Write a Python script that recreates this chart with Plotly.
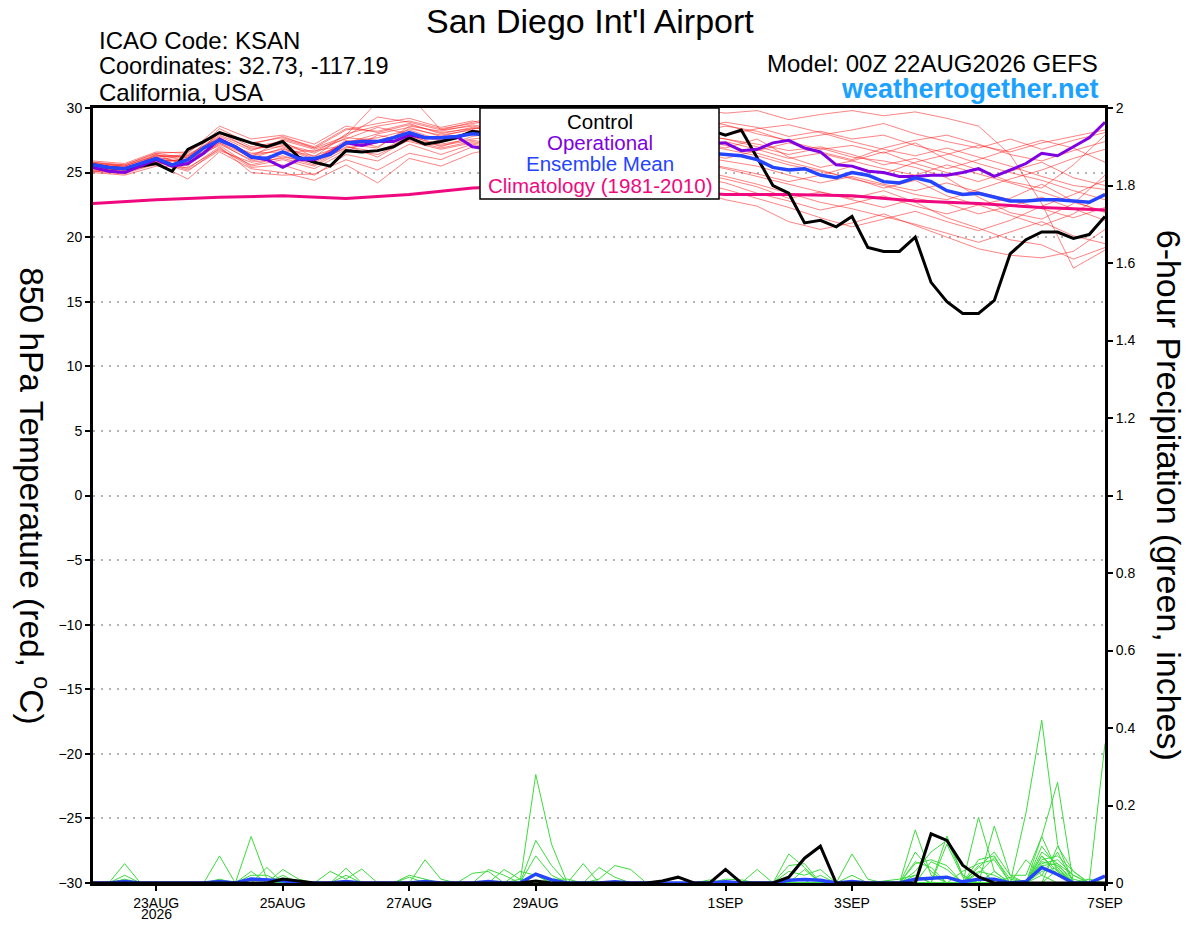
import pandas as pd
import plotly.graph_objs as go

# --- time axes (GEFS run 00Z 22AUG2026) ---
t6 = pd.date_range("2026-08-22 00:00", periods=65, freq="6h")
t12 = pd.date_range("2026-08-22 00:00", periods=33, freq="12h")
t24 = pd.date_range("2026-08-22 00:00", periods=17, freq="24h")

# 850 hPa temperature (C), 6-hourly
control_t = [25.6, 25.4, 25.3, 25.5, 25.7, 25.1, 26.8, 27.4, 28.1, 27.7, 27.3, 27.0, 27.4,
             26.2, 25.8, 25.5, 26.7, 26.6, 26.7, 27.0, 27.7, 27.2, 27.4, 27.7, 28.2, 28.0,
             28.3, 27.9, 28.4, 28.7, 28.2, 28.6, 28.9, 28.4, 28.1, 28.5, 28.8, 28.3, 28.6,
             28.3, 27.9, 28.3, 26.1, 24.0, 23.4, 21.1, 21.3, 20.8, 21.6, 19.2, 18.9, 18.9,
             20.0, 16.5, 15.0, 14.1, 14.1, 15.1, 18.7, 19.8, 20.4, 20.4, 19.9, 20.2, 21.6]
oper_t = [25.4, 25.1, 25.0, 25.5, 26.0, 25.5, 25.7, 26.5, 27.6, 27.0, 26.2, 26.0, 25.4,
          26.0, 26.0, 26.5, 27.3, 27.1, 27.4, 27.4, 27.9, 27.7, 27.7, 27.8, 27.0, 26.8,
          26.5, 27.0, 27.3, 27.0, 26.7, 27.2, 27.5, 27.1, 26.9, 27.3, 27.6, 27.2, 27.4,
          27.3, 27.3, 26.7, 26.8, 27.3, 27.5, 26.9, 26.6, 25.6, 25.5, 25.1, 25.0, 24.7,
          24.7, 24.8, 24.8, 25.0, 25.3, 24.7, 25.2, 25.7, 26.5, 26.3, 27.0, 27.7, 28.9]
mean_t = [25.6, 25.4, 25.3, 25.7, 26.1, 25.6, 26.0, 26.9, 27.5, 27.0, 26.2, 26.1, 26.6,
          26.1, 26.1, 26.4, 27.3, 27.4, 27.4, 27.7, 28.1, 27.7, 27.7, 27.8, 28.0, 27.9,
          27.8, 27.6, 27.7, 27.4, 27.5, 27.2, 27.3, 27.0, 27.1, 26.8, 26.9, 26.7, 26.6,
          26.5, 26.4, 26.3, 26.0, 25.4, 25.2, 25.3, 24.8, 24.6, 25.0, 24.8, 24.3, 24.2,
          24.6, 24.3, 23.6, 23.3, 23.4, 23.1, 22.8, 22.8, 22.9, 22.9, 22.8, 22.7, 23.3]
# climatology (1981-2010), daily
clim_t = [22.6, 22.9, 23.1, 23.2, 23.0, 23.3, 23.8, 24.0, 24.0, 23.6, 23.3, 23.3, 23.2,
          22.8, 22.6, 22.3, 22.1]

# ensemble perturbation members, 12-hourly
members_t = [
    [25.3, 25.1, 26.4, 25.9, 28.1, 26.8, 27.2, 26.6, 27.9, 30.5, 31.0, 28.3, 28.9, 29.4, 29.8, 29.2, 28.7,
     29.1, 29.6, 29.9, 29.6, 29.8, 29.1, 29.5, 29.8, 29.4, 29.7, 29.2, 28.6, 26.4, 22.6, 17.6, 19.0],
    [25.6, 25.4, 26.0, 26.3, 27.6, 26.1, 26.9, 26.0, 27.5, 27.0, 28.4, 27.9, 28.3, 28.0, 27.6, 27.9, 27.5,
     27.2, 27.8, 28.1, 28.6, 28.2, 27.4, 26.8, 27.1, 26.5, 27.3, 26.0, 25.2, 24.3, 23.8, 25.6, 27.9],
    [25.8, 25.6, 26.5, 26.1, 28.4, 27.2, 27.8, 26.9, 28.3, 28.8, 29.2, 28.5, 29.0, 28.4, 28.9, 28.1, 27.8,
     28.3, 28.5, 27.9, 27.6, 27.0, 26.4, 26.9, 26.2, 25.9, 25.4, 24.6, 23.1, 21.9, 21.4, 22.6, 24.8],
    [25.1, 24.9, 25.7, 24.5, 26.6, 25.3, 25.0, 24.4, 25.6, 24.2, 26.1, 25.5, 26.5, 27.0, 26.4, 25.8, 25.3,
     24.9, 24.1, 23.6, 22.9, 22.4, 21.2, 20.6, 21.1, 21.8, 20.9, 20.0, 19.1, 18.6, 18.4, 18.9, 20.6],
    [25.5, 25.3, 26.2, 25.7, 27.3, 25.9, 26.3, 25.6, 27.0, 26.6, 27.8, 27.2, 27.6, 27.9, 27.2, 26.8, 26.4,
     26.9, 26.5, 25.9, 25.4, 24.9, 24.3, 24.8, 25.5, 24.9, 25.8, 26.4, 27.1, 26.6, 27.3, 27.8, 28.3],
    [25.2, 25.0, 25.9, 26.0, 27.1, 25.5, 26.0, 25.3, 26.6, 27.9, 27.4, 26.8, 27.3, 26.9, 27.4, 26.3, 26.9,
     26.1, 26.6, 27.2, 26.8, 26.3, 25.6, 25.1, 24.6, 23.8, 24.4, 23.2, 22.5, 23.0, 24.1, 22.8, 21.9],
    [25.9, 25.7, 26.6, 26.5, 28.6, 27.6, 27.9, 27.2, 28.6, 28.1, 28.7, 28.1, 28.4, 28.7, 28.2, 28.5, 29.0,
     28.6, 28.0, 28.4, 28.9, 28.5, 27.8, 28.2, 27.6, 27.9, 27.1, 26.5, 25.7, 25.0, 24.4, 23.6, 22.9],
    [25.4, 25.2, 26.1, 25.3, 27.0, 25.0, 24.8, 24.9, 26.0, 25.2, 26.5, 26.0, 27.0, 26.5, 27.1, 26.7, 26.0,
     25.6, 25.1, 24.7, 24.2, 23.4, 22.8, 22.1, 22.6, 23.2, 22.4, 21.8, 22.5, 21.7, 20.9, 21.8, 23.4],
    [25.7, 25.5, 26.3, 26.2, 27.8, 26.7, 27.5, 26.8, 27.6, 28.5, 28.0, 27.6, 28.1, 27.3, 26.9, 27.4, 27.9,
     27.5, 27.1, 26.6, 26.1, 26.7, 27.3, 26.6, 26.0, 26.9, 27.5, 27.9, 27.2, 26.4, 25.9, 26.7, 27.4],
    [25.0, 24.8, 25.5, 25.4, 26.8, 25.6, 26.2, 25.8, 26.9, 27.3, 27.9, 27.0, 27.8, 28.2, 27.7, 27.3, 27.6,
     27.0, 26.4, 25.8, 25.3, 24.7, 24.1, 23.5, 23.0, 23.6, 22.7, 21.5, 20.7, 19.8, 19.4, 18.3, 19.2],
    [25.6, 25.3, 26.0, 25.9, 27.4, 26.3, 26.8, 26.3, 27.2, 26.9, 28.6, 28.2, 28.7, 28.3, 28.7, 28.0, 28.3,
     27.7, 27.9, 27.4, 26.9, 27.6, 26.2, 25.4, 25.9, 26.6, 25.7, 25.0, 24.3, 25.1, 25.8, 24.6, 24.0],
    [25.3, 25.2, 25.8, 25.6, 27.2, 26.0, 26.5, 25.9, 27.4, 27.7, 28.3, 27.5, 28.2, 27.6, 28.1, 27.9, 27.3,
     27.8, 28.2, 27.6, 27.1, 26.5, 25.8, 25.2, 24.5, 24.0, 23.3, 22.9, 23.7, 24.5, 25.2, 26.1, 26.8],
    [25.5, 25.4, 26.2, 26.4, 27.7, 26.4, 27.1, 26.5, 27.7, 27.5, 28.1, 27.4, 28.0, 27.8, 27.4, 27.0, 26.6,
     26.2, 26.7, 26.3, 25.9, 25.5, 24.8, 24.2, 24.7, 24.1, 23.6, 24.2, 23.5, 22.9, 22.2, 21.5, 22.3],
    [25.8, 25.5, 26.4, 25.5, 28.2, 27.0, 27.4, 26.2, 28.0, 28.6, 29.0, 28.4, 28.8, 29.1, 28.5, 28.8, 28.2,
     27.9, 27.5, 28.0, 27.6, 27.2, 26.7, 27.0, 26.4, 25.6, 26.1, 25.3, 26.0, 26.8, 27.5, 26.9, 25.8],
    [25.2, 25.1, 25.6, 26.2, 27.5, 26.5, 26.6, 26.7, 27.1, 26.2, 27.6, 27.1, 27.5, 27.1, 26.6, 26.1, 25.7,
     26.3, 25.8, 25.2, 24.7, 24.1, 23.4, 22.7, 22.2, 21.6, 21.0, 20.3, 19.6, 20.4, 21.2, 20.1, 19.5],
    [25.7, 25.6, 26.5, 26.6, 28.0, 27.3, 27.7, 27.0, 28.4, 28.2, 28.8, 28.0, 28.5, 28.1, 28.4, 28.7, 28.4,
     28.8, 28.6, 29.1, 28.7, 28.0, 27.5, 27.9, 28.3, 28.8, 28.0, 27.4, 26.9, 27.6, 26.8, 27.5, 28.1],
    [25.4, 25.0, 25.8, 25.1, 26.9, 25.4, 25.6, 24.8, 26.4, 25.9, 27.2, 26.4, 27.2, 26.7, 26.2, 25.6, 25.9,
     25.4, 24.8, 24.3, 23.7, 23.0, 22.3, 21.5, 20.8, 21.4, 22.0, 21.2, 20.5, 21.3, 22.4, 23.3, 24.4],
    [25.6, 25.5, 26.3, 26.3, 27.9, 26.9, 27.0, 26.1, 27.3, 28.0, 28.5, 27.8, 28.4, 28.6, 28.0, 27.5, 27.1,
     26.8, 27.3, 26.9, 27.4, 26.8, 26.1, 26.5, 25.9, 25.3, 24.8, 25.6, 24.9, 24.2, 23.5, 22.7, 22.0],
    [25.3, 25.3, 26.0, 25.8, 27.3, 26.2, 27.6, 26.9, 27.8, 29.3, 28.9, 28.3, 28.6, 28.2, 27.8, 28.3, 28.9,
     29.2, 28.8, 28.3, 27.9, 28.4, 28.7, 28.1, 27.4, 26.8, 26.3, 26.9, 26.2, 25.5, 24.7, 24.0, 23.7],
    [25.1, 25.0, 25.9, 25.2, 26.7, 25.8, 26.1, 25.5, 26.8, 26.4, 27.5, 26.9, 27.4, 27.0, 27.5, 26.8, 26.4,
     26.0, 25.5, 25.0, 24.5, 23.9, 23.0, 23.5, 22.9, 22.3, 23.0, 22.6, 21.8, 22.4, 23.1, 22.2, 21.3],
]

# 6-hour precipitation (inches), 6-hourly
control_p = [0, 0, 0, 0, 0, 0, 0, 0, 0, 0, 0, 0, 0.01, 0.005, 0, 0, 0, 0, 0, 0, 0, 0, 0, 0, 0, 0,
             0, 0, 0.005, 0, 0, 0, 0, 0, 0, 0, 0.005, 0.015, 0, 0, 0.035, 0, 0, 0, 0.015, 0.064, 0.095,
             0, 0, 0, 0, 0, 0, 0.127, 0.11, 0.046, 0.016, 0, 0, 0, 0, 0, 0, 0, 0]
mean_p = [0, 0, 0.004, 0, 0, 0, 0, 0, 0.004, 0, 0.01, 0.008, 0.006, 0, 0, 0, 0.004, 0, 0, 0, 0,
          0.004, 0, 0, 0, 0.004, 0, 0, 0.023, 0.008, 0, 0, 0, 0.003, 0, 0, 0, 0, 0, 0, 0.003, 0, 0,
          0, 0.007, 0.009, 0.007, 0, 0.004, 0, 0, 0, 0.01, 0.013, 0.015, 0.003, 0.01, 0.01, 0, 0.004,
          0.04, 0.022, 0, 0, 0.018]
members_p = [
    [0, 0, 0.05, 0, 0, 0, 0, 0, 0, 0, 0, 0, 0, 0, 0, 0, 0, 0, 0, 0, 0, 0, 0, 0, 0, 0, 0, 0.01, 0, 0, 0, 0, 0,
     0, 0, 0, 0, 0, 0, 0, 0, 0, 0, 0, 0, 0, 0, 0, 0, 0, 0, 0, 0.055, 0.04, 0, 0, 0, 0, 0, 0, 0.07, 0.03, 0, 0, 0],
    [0, 0, 0.02, 0, 0, 0, 0, 0, 0, 0, 0, 0, 0, 0, 0, 0, 0, 0, 0, 0, 0, 0, 0, 0, 0, 0, 0, 0.03, 0.02, 0, 0, 0, 0,
     0, 0, 0, 0, 0, 0, 0, 0, 0, 0, 0, 0, 0, 0, 0, 0, 0, 0, 0, 0.03, 0.08, 0.11, 0.02, 0, 0, 0, 0, 0.095, 0.04, 0, 0, 0],
    [0, 0, 0.01, 0, 0, 0, 0, 0, 0, 0, 0, 0, 0, 0, 0, 0, 0, 0, 0, 0, 0, 0, 0, 0, 0, 0, 0, 0, 0.28, 0.10, 0, 0, 0,
     0, 0, 0, 0, 0, 0, 0, 0, 0, 0, 0, 0, 0, 0, 0, 0, 0, 0, 0, 0, 0, 0.121, 0.02, 0, 0, 0, 0, 0, 0.095, 0.03, 0, 0],
    [0, 0, 0, 0, 0, 0, 0, 0, 0.07, 0, 0, 0, 0, 0, 0, 0, 0, 0, 0, 0, 0, 0, 0, 0, 0, 0, 0, 0, 0.11, 0.045, 0, 0, 0,
     0, 0, 0, 0, 0, 0, 0, 0, 0, 0, 0, 0, 0, 0, 0, 0, 0, 0, 0, 0, 0, 0, 0, 0.17, 0.03, 0, 0, 0.08, 0.05, 0, 0, 0],
    [0, 0, 0, 0, 0, 0, 0, 0, 0.01, 0, 0, 0, 0, 0, 0, 0, 0, 0, 0, 0, 0, 0, 0, 0, 0, 0, 0, 0, 0.07, 0.02, 0, 0, 0,
     0, 0, 0, 0, 0, 0, 0, 0, 0, 0, 0, 0, 0, 0, 0, 0, 0, 0, 0, 0, 0, 0, 0, 0.06, 0.07, 0, 0, 0.07, 0.02, 0, 0, 0.36],
    [0, 0, 0, 0, 0, 0, 0, 0, 0, 0, 0.12, 0.01, 0, 0, 0, 0, 0, 0, 0, 0, 0, 0, 0, 0, 0, 0, 0, 0, 0.02, 0, 0, 0, 0,
     0, 0, 0, 0, 0, 0, 0, 0, 0, 0, 0, 0, 0, 0, 0, 0, 0, 0, 0, 0, 0, 0, 0, 0.04, 0.08, 0.02, 0, 0.05, 0.06, 0.02, 0, 0],
    [0, 0, 0, 0, 0, 0, 0, 0, 0, 0, 0.02, 0.02, 0, 0, 0, 0, 0, 0, 0, 0, 0, 0, 0, 0, 0, 0, 0, 0, 0, 0, 0, 0.05, 0,
     0, 0, 0, 0, 0, 0, 0, 0, 0, 0, 0, 0, 0, 0, 0, 0, 0, 0, 0, 0, 0, 0, 0, 0, 0.147, 0.02, 0.02, 0.12, 0.03, 0, 0, 0],
    [0, 0, 0, 0, 0, 0, 0, 0, 0, 0, 0.03, 0, 0.02, 0, 0, 0, 0, 0, 0, 0, 0, 0, 0, 0, 0, 0, 0, 0, 0, 0, 0, 0, 0.04,
     0.015, 0, 0, 0, 0, 0, 0, 0, 0, 0, 0, 0, 0, 0, 0, 0, 0, 0, 0, 0, 0, 0, 0, 0, 0, 0, 0.18, 0.42, 0.10, 0, 0, 0],
    [0, 0, 0, 0, 0, 0, 0, 0, 0, 0, 0, 0.04, 0, 0, 0, 0, 0, 0, 0, 0, 0, 0, 0, 0, 0, 0, 0, 0, 0, 0, 0, 0, 0.01,
     0.045, 0.035, 0, 0, 0, 0, 0, 0, 0, 0, 0, 0, 0, 0, 0, 0, 0, 0, 0, 0, 0, 0, 0, 0, 0, 0, 0, 0.12, 0.26, 0, 0, 0],
    [0, 0, 0, 0, 0, 0, 0, 0, 0, 0, 0, 0, 0.035, 0.01, 0, 0, 0, 0, 0, 0, 0, 0, 0, 0, 0, 0, 0, 0, 0, 0, 0, 0, 0,
     0, 0, 0, 0, 0, 0, 0, 0.01, 0.008, 0, 0, 0, 0, 0, 0, 0, 0, 0, 0, 0, 0, 0, 0, 0, 0, 0, 0, 0.06, 0.07, 0.03, 0, 0],
    [0, 0, 0, 0, 0, 0, 0, 0, 0, 0, 0, 0, 0, 0, 0, 0.03, 0.01, 0.036, 0, 0, 0, 0, 0, 0, 0, 0, 0, 0, 0, 0, 0, 0, 0,
     0, 0, 0, 0, 0, 0, 0, 0, 0, 0.035, 0, 0, 0, 0, 0, 0, 0, 0, 0, 0, 0, 0, 0, 0, 0, 0, 0, 0.045, 0.05, 0.02, 0, 0],
    [0, 0, 0, 0, 0, 0, 0, 0, 0, 0, 0, 0, 0, 0, 0, 0, 0.038, 0, 0, 0, 0, 0, 0, 0, 0, 0, 0, 0, 0, 0, 0, 0, 0,
     0, 0, 0, 0, 0, 0, 0, 0, 0, 0, 0, 0.075, 0.04, 0, 0, 0, 0, 0, 0, 0, 0, 0, 0, 0, 0, 0, 0, 0.03, 0.04, 0, 0.01, 0],
    [0, 0, 0, 0, 0, 0, 0, 0, 0, 0, 0, 0, 0, 0, 0, 0, 0.02, 0, 0, 0, 0, 0, 0, 0, 0, 0, 0, 0, 0, 0, 0, 0, 0,
     0, 0, 0, 0, 0, 0, 0, 0, 0, 0, 0, 0.045, 0.05, 0, 0, 0, 0, 0, 0, 0.02, 0, 0, 0, 0, 0.03, 0, 0, 0.02, 0.08, 0, 0, 0],
    [0, 0, 0, 0, 0, 0, 0, 0, 0, 0, 0, 0, 0, 0, 0, 0, 0, 0, 0, 0, 0.02, 0.01, 0, 0, 0, 0, 0, 0, 0, 0, 0, 0, 0,
     0, 0, 0, 0, 0, 0, 0, 0, 0, 0, 0, 0.03, 0.02, 0.035, 0, 0, 0, 0, 0, 0, 0, 0, 0.03, 0.05, 0.06, 0, 0, 0, 0, 0, 0, 0],
    [0, 0, 0, 0, 0, 0, 0, 0, 0, 0, 0, 0, 0, 0, 0, 0, 0, 0, 0, 0, 0.015, 0, 0, 0, 0, 0, 0, 0, 0, 0, 0, 0, 0,
     0, 0, 0, 0, 0, 0, 0, 0, 0, 0, 0, 0, 0.035, 0, 0, 0, 0, 0, 0, 0.137, 0.02, 0, 0, 0.025, 0.066, 0.01, 0, 0, 0, 0, 0, 0],
    [0, 0, 0, 0, 0, 0, 0, 0, 0, 0, 0, 0, 0, 0, 0, 0, 0, 0, 0, 0, 0, 0.06, 0.01, 0, 0, 0, 0, 0, 0, 0, 0, 0, 0,
     0, 0, 0, 0, 0, 0, 0, 0, 0, 0, 0, 0, 0, 0.02, 0, 0, 0, 0, 0, 0, 0, 0.10, 0.015, 0, 0, 0, 0.06, 0.02, 0, 0, 0, 0],
    [0, 0, 0, 0, 0, 0, 0, 0, 0, 0, 0, 0, 0, 0, 0, 0, 0, 0, 0, 0, 0, 0, 0, 0, 0.025, 0.03, 0, 0, 0, 0, 0, 0, 0,
     0, 0, 0, 0, 0, 0, 0, 0, 0, 0, 0, 0, 0, 0, 0, 0.075, 0.01, 0, 0, 0.08, 0.03, 0, 0, 0.045, 0, 0, 0, 0, 0, 0, 0, 0],
    [0, 0, 0, 0, 0, 0, 0, 0, 0, 0, 0, 0, 0, 0, 0, 0, 0, 0, 0, 0, 0, 0, 0, 0, 0, 0.035, 0.02, 0, 0, 0, 0, 0, 0,
     0, 0, 0, 0, 0, 0, 0, 0, 0, 0, 0, 0, 0, 0, 0, 0.02, 0, 0, 0, 0, 0.055, 0.035, 0, 0, 0, 0.015, 0, 0, 0.035, 0, 0, 0],
    [0, 0, 0, 0, 0, 0, 0, 0, 0, 0, 0, 0, 0, 0, 0, 0, 0, 0, 0, 0, 0, 0, 0, 0, 0, 0, 0.035, 0.01, 0, 0, 0, 0, 0,
     0, 0, 0, 0, 0, 0, 0, 0, 0, 0, 0, 0, 0, 0, 0, 0, 0, 0.005, 0.01, 0.02, 0, 0, 0, 0, 0, 0, 0, 0.055, 0.045, 0.01, 0, 0],
    [0, 0, 0, 0, 0, 0, 0, 0, 0, 0, 0, 0, 0, 0, 0, 0, 0, 0, 0, 0, 0, 0, 0, 0, 0, 0, 0, 0, 0, 0.01, 0.01, 0, 0,
     0, 0, 0, 0, 0, 0, 0.008, 0, 0, 0, 0, 0, 0, 0, 0, 0, 0, 0, 0, 0.05, 0.06, 0.045, 0, 0.03, 0.02, 0, 0, 0, 0, 0, 0, 0],
]

tick_dates = ["2026-08-23", "2026-08-25", "2026-08-27", "2026-08-29",
              "2026-09-01", "2026-09-03", "2026-09-05", "2026-09-07"]
tick_labels = ["23AUG", "25AUG", "27AUG", "29AUG", "1SEP", "3SEP", "5SEP", "7SEP"]
year_label = "2026"

legend_names = ["Control", "Operational", "Ensemble Mean", "Climatology (1981-2010)"]

RED = "rgba(255,30,30,0.55)"
GREEN = "#3cdc3c"
PURPLE = "#7f00e0"
BLUE = "#2444ff"
PINK = "#f0087f"
FONT = "Liberation Sans, Arial, sans-serif"

fig = go.Figure()

for m in members_t:
    fig.add_trace(go.Scatter(x=t12, y=m, mode="lines", line=dict(color=RED, width=1), yaxis="y"))
for m in members_p:
    fig.add_trace(go.Scatter(x=t6, y=m, mode="lines", line=dict(color=GREEN, width=1), yaxis="y2"))

fig.add_trace(go.Scatter(x=t6, y=mean_p, mode="lines", line=dict(color=BLUE, width=3.5), yaxis="y2"))
fig.add_trace(go.Scatter(x=t6, y=control_p, mode="lines", line=dict(color="black", width=3), yaxis="y2"))

fig.add_trace(go.Scatter(x=t24, y=clim_t, mode="lines", line=dict(color=PINK, width=3), yaxis="y"))
fig.add_trace(go.Scatter(x=t6, y=control_t, mode="lines", line=dict(color="black", width=3), yaxis="y"))
fig.add_trace(go.Scatter(x=t6, y=oper_t, mode="lines", line=dict(color=PURPLE, width=3), yaxis="y"))
fig.add_trace(go.Scatter(x=t6, y=mean_t, mode="lines", line=dict(color=BLUE, width=3.5), yaxis="y"))

notes = [
    dict(text="San Diego Int'l Airport", x=0.491, y=1.112, xanchor="center", size=34),
    dict(text="ICAO Code: KSAN", x=0.004, y=1.0877, xanchor="left", size=24),
    dict(text="Coordinates: 32.73, -117.19", x=0.004, y=1.0542, xanchor="left", size=23.5),
    dict(text="California, USA", x=0.004, y=1.0206, xanchor="left", size=24),
    dict(text="Model: 00Z 22AUG2026 GEFS", x=0.995, y=1.0568, xanchor="right", size=24),
    dict(text="<b>weathertogether.net</b>", x=0.996, y=1.0245, xanchor="right", size=27, color="#1ba1ff"),
]
annotations = []
for n in notes:
    annotations.append(dict(text=n["text"], xref="paper", yref="paper", x=n["x"], y=n["y"],
                            xanchor=n["xanchor"], yanchor="middle", showarrow=False,
                            font=dict(size=n["size"], color=n.get("color", "black"), family=FONT)))
annotations.append(dict(text="850 hPa Temperature (red, <sup>o</sup>C)", xref="paper", yref="paper",
                        x=-0.058, y=0.5, xanchor="center", yanchor="middle", textangle=90,
                        showarrow=False, font=dict(size=33.5, color="black", family=FONT)))
annotations.append(dict(text="6-hour Precipitation (green, inches)", xref="paper", yref="paper",
                        x=1.064, y=0.5, xanchor="center", yanchor="middle", textangle=90,
                        showarrow=False, font=dict(size=34, color="black", family=FONT)))
# year under the first date label
annotations.append(dict(text=year_label, xref="x", yref="paper", x=tick_dates[0], y=-0.040,
                        xanchor="center", yanchor="middle", showarrow=False,
                        font=dict(size=14, color="black", family=FONT)))

# legend box drawn over the traces, one centred line per series
legend_colors = ["black", PURPLE, BLUE, PINK]
legend_y = [0.9832, 0.9561, 0.9290, 0.9006]
for name, col, ly in zip(legend_names, legend_colors, legend_y):
    annotations.append(dict(text=name, xref="paper", yref="paper", x=0.5005, y=ly,
                            xanchor="center", yanchor="middle", showarrow=False,
                            font=dict(size=20.5, color=col, family=FONT)))

fig.update_layout(
    width=1192, height=911,
    margin=dict(l=85, r=95, t=100, b=36),
    paper_bgcolor="white", plot_bgcolor="white",
    showlegend=False,
    font=dict(family=FONT, color="black", size=14),
    annotations=annotations,
    shapes=[dict(type="rect", xref="paper", yref="paper", x0=0.3824, x1=0.6186, y0=0.8826, y1=1.0,
                 fillcolor="white", line=dict(color="black", width=1.5), layer="above")],
    xaxis=dict(range=["2026-08-22 00:00", "2026-09-07 00:00"], tickvals=tick_dates, ticktext=tick_labels,
               ticks="outside", ticklen=5, tickwidth=1.5, tickcolor="black", automargin=False,
               showline=True, linewidth=3, linecolor="black", mirror=True, showgrid=False,
               tickfont=dict(size=14)),
    yaxis=dict(range=[-30, 30], dtick=5, ticks="outside", ticklen=5, tickwidth=1.5, tickcolor="black",
               showline=True, linewidth=3, linecolor="black", showgrid=True, gridcolor="#b4b4b4",
               gridwidth=1.5, griddash="2px,6px", zeroline=False, automargin=False,
               tickfont=dict(size=14)),
    yaxis2=dict(range=[0, 2], dtick=0.2, overlaying="y", side="right", ticks="outside", ticklen=5,
                tickwidth=1.5, tickcolor="black", showline=True, linewidth=3, linecolor="black",
                showgrid=False, zeroline=False, automargin=False, tickfont=dict(size=14)),
)

fig.write_html("out.html")
